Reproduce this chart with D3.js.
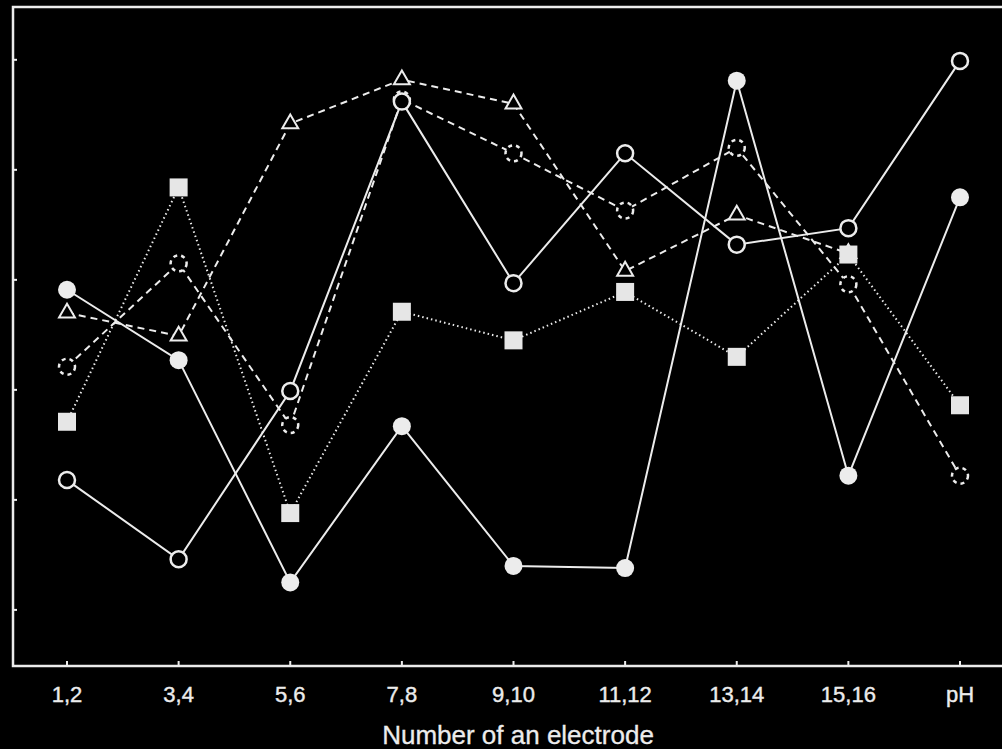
<!DOCTYPE html>
<html>
<head>
<meta charset="utf-8">
<script src="https://d3js.org/d3.v7.min.js"></script>
<style>
  html, body { margin: 0; padding: 0; background: #000; }
  svg { display: block; }
</style>
</head>
<body>
<script>
// categories on the x axis
const electrodes = ["1,2", "3,4", "5,6", "7,8", "9,10", "11,12", "13,14", "15,16", "pH"];
// y ticks (unlabelled in the source)
const yTicks = [0, 1, 2, 3, 4, 5];

// series values, one per electrode (null = no point)
const filledCircle = [2.91, 2.27, 0.25, 1.67, 0.40, 0.38, 4.81, 1.22, 3.75];
const openCircle   = [1.18, 0.46, 1.99, 4.62, 2.97, 4.15, 3.32, 3.47, 4.99];
const square       = [1.71, 3.84, 0.88, 2.71, 2.45, 2.89, 2.30, 3.23, 1.86];
const triangle     = [2.70, 2.49, 4.42, 4.82, 4.60, 3.08, 3.59, 3.24, null];
const dashCircle   = [2.21, 3.15, 1.68, 4.64, 4.15, 3.63, 4.20, 2.96, 1.22];

// drawn in this order (squares last so they cover the triangle at 15,16)
const series = [
  {name: "triangle", values: triangle, dash: "7,5", marker: "triangle"},
  {name: "dashCircle", values: dashCircle, dash: "7,5", marker: "dashCircle"},
  {name: "openCircle", values: openCircle, dash: null, marker: "openCircle"},
  {name: "filledCircle", values: filledCircle, dash: null, marker: "filledCircle"},
  {name: "square", values: square, dash: "1.5,3", marker: "square"}
];

const W = 1002, H = 749;
const mLeft = 13, mTop = 7, mRight = 1002, mBottom = 666;
const ink = "#ececec";

const svg = d3.select("body").append("svg")
  .attr("width", W).attr("height", H)
  .style("background", "#000");

const x = d3.scalePoint().domain(electrodes).range([67, 960]);
const y = d3.scaleLinear().domain([-0.51, 5.48]).range([mBottom, mTop]);

// frame
svg.append("path")
  .attr("d", `M${mRight},${mTop}H${mLeft}V${mBottom}H${mRight}`)
  .attr("fill", "none").attr("stroke", ink).attr("stroke-width", 2.5);

// y ticks (inward)
svg.append("g").selectAll("line").data(yTicks).join("line")
  .attr("x1", mLeft).attr("x2", mLeft + 4)
  .attr("y1", d => y(d)).attr("y2", d => y(d))
  .attr("stroke", ink).attr("stroke-width", 2);

// x axis ticks and labels
const xa = svg.append("g");
xa.selectAll("line").data(electrodes).join("line")
  .attr("x1", d => x(d)).attr("x2", d => x(d))
  .attr("y1", mBottom).attr("y2", mBottom - 5)
  .attr("stroke", ink).attr("stroke-width", 2);
xa.selectAll("text").data(electrodes).join("text")
  .attr("x", d => x(d)).attr("y", 702)
  .attr("text-anchor", "middle")
  .attr("fill", ink)
  .attr("stroke", ink).attr("stroke-width", 0.4)
  .style("font-family", "Liberation Sans, Arial, sans-serif")
  .style("font-size", "22px")
  .text(d => d);

svg.append("text")
  .attr("x", 518).attr("y", 744)
  .attr("text-anchor", "middle")
  .attr("fill", ink)
  .attr("stroke", ink).attr("stroke-width", 0.3)
  .style("font-family", "Liberation Sans, Arial, sans-serif")
  .style("font-size", "26px")
  .text("Number of an electrode");

// lines
const line = d3.line()
  .defined(d => d.v != null)
  .x(d => x(d.k))
  .y(d => y(d.v));

const pts = s => s.values.map((v, i) => ({k: electrodes[i], v: v}));

svg.append("g").selectAll("path").data(series).join("path")
  .attr("d", s => line(pts(s)))
  .attr("fill", "none")
  .attr("stroke", ink)
  .attr("stroke-width", 2)
  .attr("stroke-dasharray", s => s.dash);

// markers
const tri = d3.symbol().type(d3.symbolTriangle).size(110);
series.forEach(s => {
  const g = svg.append("g");
  const data = pts(s).filter(d => d.v != null);
  if (s.marker === "filledCircle") {
    g.selectAll("circle").data(data).join("circle")
      .attr("cx", d => x(d.k)).attr("cy", d => y(d.v)).attr("r", 9)
      .attr("fill", ink);
  } else if (s.marker === "openCircle") {
    g.selectAll("circle").data(data).join("circle")
      .attr("cx", d => x(d.k)).attr("cy", d => y(d.v)).attr("r", 8)
      .attr("fill", "#000").attr("stroke", ink).attr("stroke-width", 2.5);
  } else if (s.marker === "dashCircle") {
    g.selectAll("circle").data(data).join("circle")
      .attr("cx", d => x(d.k)).attr("cy", d => y(d.v)).attr("r", 8)
      .attr("fill", "#000").attr("stroke", ink).attr("stroke-width", 2.5)
      .attr("stroke-dasharray", "4,4");
  } else if (s.marker === "square") {
    g.selectAll("rect").data(data).join("rect")
      .attr("x", d => x(d.k) - 9).attr("y", d => y(d.v) - 9)
      .attr("width", 18).attr("height", 18)
      .attr("fill", "#e6e6e6");
  } else if (s.marker === "triangle") {
    g.selectAll("path").data(data).join("path")
      .attr("transform", d => `translate(${x(d.k)},${y(d.v)})`)
      .attr("d", tri)
      .attr("fill", "#000").attr("stroke", ink).attr("stroke-width", 2);
  }
});
</script>
</body>
</html>
